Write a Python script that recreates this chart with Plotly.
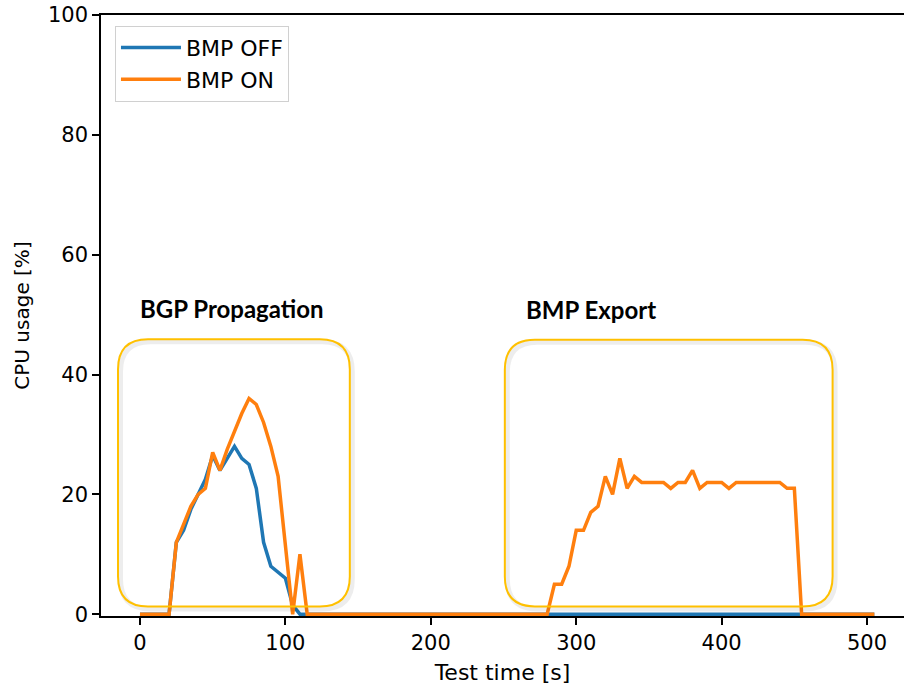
import plotly.graph_objects as go

# ---------------- data ----------------
time_s = list(range(0, 510, 5))  # 0 .. 505 s, 5 s sampling

bmp_off_bgp = [0, 0, 0, 0, 0, 12, 14, 17.5, 20, 22.5, 26.5, 24, 26, 28, 26, 25, 21, 12, 8, 7, 6, 1.5]
bmp_on_bgp = [0, 0, 0, 0, 0, 12, 15, 18, 20, 21, 27, 24, 27.5, 30.5, 33.5, 36, 35, 32, 28, 23, 11.5, 0, 10, 0]
bmp_on_export_start = 280
bmp_on_export = [0, 5, 5, 8, 14, 14, 17, 18, 23, 20, 26, 21, 23, 22, 22, 22, 22, 21, 22, 22,
                 24, 21, 22, 22, 22, 21, 22, 22, 22, 22, 22, 22, 22, 21, 21, 0]

n = len(time_s)
bmp_off = bmp_off_bgp + [0] * (n - len(bmp_off_bgp))
bmp_on = [0.0] * n
for i, v in enumerate(bmp_on_bgp):
    bmp_on[i] = v
i0 = time_s.index(bmp_on_export_start)
for j, v in enumerate(bmp_on_export):
    bmp_on[i0 + j] = v

series_names = ["BMP OFF", "BMP ON"]
x_ticks = [0, 100, 200, 300, 400, 500]
y_ticks = [0, 20, 40, 60, 80, 100]

# region highlight boxes (data units: x0, x1, y0, y1) and labels
regions = [
    {"label": "BGP Propagation", "box": (-15.1, 144.3, 1.3, 45.9), "label_pos": (63, 51.0)},
    {"label": "BMP Export", "box": (250.9, 476.3, 1.3, 45.8), "label_pos": (310, 50.8)},
]

# ---------------- styling ----------------
BLUE = "#1f77b4"
ORANGE = "#ff7f0e"
GOLD = "#FFC000"
W, H = 904, 685
ML, MR, MT, MB = 101, 0, 15, 69
X_RANGE = [-26.8, 525.4]
Y_RANGE = [-0.3, 100]
px_per_x = (W - ML - MR) / (X_RANGE[1] - X_RANGE[0])
px_per_y = (H - MT - MB) / (Y_RANGE[1] - Y_RANGE[0])
RADIUS_PX = 30
rx = RADIUS_PX / px_per_x
ry = RADIUS_PX / px_per_y


def rounded_path(x0, x1, y0, y1, dx=0.0, dy=0.0):
    x0 += dx; x1 += dx; y0 += dy; y1 += dy
    return (f"M {x0 + rx},{y1} L {x1 - rx},{y1} Q {x1},{y1} {x1},{y1 - ry} "
            f"L {x1},{y0 + ry} Q {x1},{y0} {x1 - rx},{y0} "
            f"L {x0 + rx},{y0} Q {x0},{y0} {x0},{y0 + ry} "
            f"L {x0},{y1 - ry} Q {x0},{y1} {x0 + rx},{y1} Z")


fig = go.Figure()
fig.add_trace(go.Scatter(x=time_s, y=bmp_off, mode="lines", name=series_names[0],
                         line=dict(color=BLUE, width=3.5), legendgroup="a"))
fig.add_trace(go.Scatter(x=time_s, y=bmp_on, mode="lines", name=series_names[1],
                         line=dict(color=ORANGE, width=3.5), legendgroup="b"))

shapes = []
for r in regions:
    x0, x1, y0, y1 = r["box"]
    # soft shadow
    shapes.append(dict(type="path", xref="x", yref="y",
                       path=rounded_path(x0, x1, y0, y1, 2.5 / px_per_x, -2.5 / px_per_y),
                       line=dict(color="rgba(0,0,0,0.07)", width=5), layer="above"))
    shapes.append(dict(type="path", xref="x", yref="y",
                       path=rounded_path(x0, x1, y0, y1),
                       line=dict(color=GOLD, width=2), layer="above"))
    fig.add_annotation(x=r["label_pos"][0], y=r["label_pos"][1], xref="x", yref="y",
                       text=f"<b>{r['label']}</b>", showarrow=False,
                       font=dict(family="Lato, Open Sans, sans-serif", size=24, color="black"),
                       xanchor="center", yanchor="middle")
fig.update_layout(shapes=shapes)

fig.update_layout(
    width=W, height=H,
    margin=dict(l=ML, r=MR, t=MT, b=MB),
    paper_bgcolor="white", plot_bgcolor="white",
    font=dict(family="DejaVu Sans", size=21, color="black"),
    showlegend=True,
    legend=dict(x=0.0174, y=0.982, xanchor="left", yanchor="top",
                bgcolor="white", bordercolor="#d0d0d0", borderwidth=1,
                font=dict(family="DejaVu Sans", size=22),
                itemwidth=60, traceorder="grouped", tracegroupgap=0),
    xaxis=dict(range=X_RANGE, tickvals=x_ticks, showgrid=False, zeroline=False,
               showline=True, linecolor="black", linewidth=1.5, mirror=True,
               ticks="outside", ticklen=7, tickwidth=1.5, tickcolor="black",
               tickfont=dict(size=21), ticklabeloverflow="allow", automargin=False,
               title=dict(text="Test time [s]", font=dict(size=22), standoff=13)),
    yaxis=dict(range=Y_RANGE, tickvals=y_ticks, showgrid=False, zeroline=False,
               showline=True, linecolor="black", linewidth=1.5,
               ticks="outside", ticklen=7, tickwidth=1.5, tickcolor="black",
               tickfont=dict(size=21), ticklabeloverflow="allow", automargin=False,
               title=dict(text="CPU usage [%]", font=dict(size=20), standoff=13)),
)

fig.write_html("out.html", config={"displayModeBar": False},
               post_script="document.body.style.margin='0';")
